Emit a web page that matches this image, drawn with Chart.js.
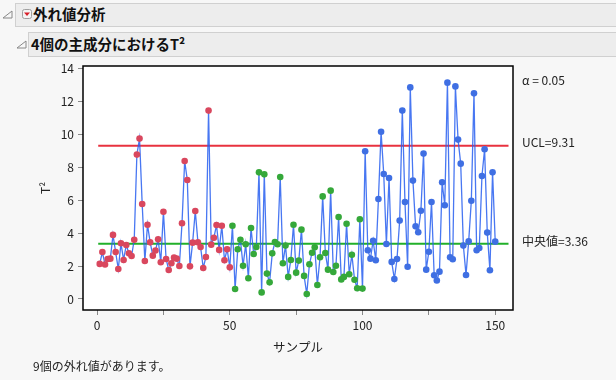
<!DOCTYPE html>
<html><head><meta charset="utf-8">
<script src="https://cdn.jsdelivr.net/npm/chart.js@4/dist/chart.umd.min.js"></script>
<style>
html,body{margin:0;padding:0;background:#f7f7f7;width:616px;height:380px;overflow:hidden;font-family:"Noto Sans CJK JP","Noto Sans",sans-serif;}
#wrap{position:relative;width:616px;height:380px;}
#c{position:absolute;left:0;top:0;}
.hdr{position:absolute;background:#ededed;border:1px solid #d0d0d0;box-sizing:border-box;}
.ht{position:absolute;font-weight:bold;font-size:14.5px;color:#111;white-space:nowrap;line-height:1;}
.tri{position:absolute;}
#foot{position:absolute;left:33px;top:360px;font-size:12px;color:#222;white-space:nowrap;line-height:1;}
</style></head>
<body><div id="wrap">
<canvas id="c" width="616" height="380"></canvas>
<div class="hdr" style="left:15px;top:3px;width:610px;height:24px;"></div>
<svg class="tri" style="left:2px;top:10px" width="12" height="9"><polygon points="1,8 10,8 10,1" fill="none" stroke="#888" stroke-width="1"/></svg>
<svg class="tri" style="left:22px;top:9px" width="11" height="11"><rect x="0.5" y="0.5" width="9" height="9" rx="2" fill="#f4f4f4" stroke="#a0a0a0"/><polygon points="2,3.5 8,3.5 5,7" fill="#d8202a"/></svg>
<div class="ht" style="left:33px;top:7px;">外れ値分析</div>
<div class="hdr" style="left:28px;top:32px;width:600px;height:25px;"></div>
<svg class="tri" style="left:16px;top:40px" width="12" height="9"><polygon points="1,8 10,8 10,1" fill="none" stroke="#888" stroke-width="1"/></svg>
<div class="ht" style="left:31px;top:37px;">4個の主成分におけるT²</div>
<div id="foot">9個の外れ値があります。</div>
</div>
<script>
// ---- data ----
const t2Values = [
 2.13,2.85,2.09,2.43,2.45,3.89,2.85,1.82,3.38,2.37,
 3.28,2.77,2.61,3.60,8.77,9.74,5.77,2.31,4.51,3.44,
 2.63,2.94,3.62,2.23,5.30,2.43,1.76,2.17,2.51,2.45,
 2.00,4.60,8.38,7.23,1.98,3.42,5.34,3.44,3.16,1.88,
 2.55,11.44,3.30,3.72,4.49,2.98,4.45,2.35,3.02,1.92,
 4.45,0.61,3.02,3.60,2.02,3.32,1.26,4.31,2.73,3.16,
 7.69,0.40,7.57,1.54,1.01,2.77,3.46,3.32,7.41,2.17,
 3.24,1.34,2.37,4.51,1.60,2.33,4.21,1.40,0.30,2.11,
 2.81,3.14,0.85,2.53,6.23,2.79,1.78,6.58,1.64,2.02,
 4.98,1.19,1.34,4.57,1.50,2.69,1.17,0.65,4.84,0.63,
 8.97,2.96,2.45,3.54,2.35,6.07,10.16,7.59,3.34,7.35,
 2.25,1.21,2.43,4.76,11.44,5.89,1.96,12.85,7.19,4.41,
 4.05,5.36,8.83,1.78,2.87,5.89,1.44,1.12,1.66,7.09,
 5.69,13.14,2.53,2.41,12.91,9.68,8.22,3.24,1.46,3.50,
 5.97,12.49,2.96,3.10,7.47,9.09,4.03,1.74,7.69,3.48
];
const groupSizes = [50, 50, 50];
const groupColors = ['#d9475e', '#35a83a', '#3f6fe3'];
const ucl = 9.31;
const median = 3.36;
const alpha = 0.05;
const xTickValues = [0, 25, 50, 75, 100, 125, 150];
const xLabelValues = [0, 50, 100, 150];
const yTickValues = [0, 2, 4, 6, 8, 10, 12, 14];

// ---- build ----
const samples = t2Values.map((_, i) => i + 1);
const pointColors = [];
groupSizes.forEach((n, g) => { for (let k = 0; k < n; k++) pointColors.push(groupColors[g]); });
const points = samples.map((s, i) => ({x: s, y: t2Values[i]}));

const FONT = '"Noto Sans CJK JP","Noto Sans",sans-serif';

const framePlugin = {
  id: 'frame',
  beforeDraw(chart) {
    const a = chart.chartArea, c = chart.ctx;
    c.save(); c.fillStyle = '#ffffff'; c.fillRect(a.left, a.top, a.right - a.left, a.bottom - a.top); c.restore();
  },
  beforeDatasetsDraw(chart) {
    const a = chart.chartArea, c = chart.ctx, xs = chart.scales.x, ys = chart.scales.y;
    const x0 = xs.getPixelForValue(samples[0]) - 1.5;
    const x1 = a.right - 4.5;
    c.save();
    c.lineWidth = 2;
    c.strokeStyle = '#e8323f';
    c.beginPath(); c.moveTo(x0, ys.getPixelForValue(ucl)); c.lineTo(x1, ys.getPixelForValue(ucl)); c.stroke();
    c.strokeStyle = '#22b02a';
    c.beginPath(); c.moveTo(x0, ys.getPixelForValue(median)); c.lineTo(x1, ys.getPixelForValue(median)); c.stroke();
    c.restore();
  },
  afterDraw(chart) {
    const a = chart.chartArea, c = chart.ctx, ys = chart.scales.y;
    c.save();
    c.strokeStyle = '#000'; c.lineWidth = 1.5;
    c.strokeRect(a.left, a.top, a.right - a.left, a.bottom - a.top);
    c.fillStyle = '#222';
    c.font = '12px ' + FONT;
    c.textBaseline = 'middle'; c.textAlign = 'left';
    const tx = a.right + 9;
    c.fillText('α = ' + alpha.toFixed(2), tx, a.top + 14);
    c.fillText('UCL=' + ucl.toFixed(2), tx, ys.getPixelForValue(ucl) - 3);
    c.fillText('中央値=' + median.toFixed(2), tx, ys.getPixelForValue(median) - 2);
    c.restore();
  }
};

new Chart(document.getElementById('c'), {
  type: 'scatter',
  data: {
    datasets: [{
      data: points,
      showLine: true,
      borderColor: 'rgba(40,95,240,0.85)',
      borderWidth: 1.3,
      pointRadius: 3.3,
      pointBorderWidth: 0,
      pointBackgroundColor: pointColors,
      pointBorderColor: pointColors,
      tension: 0
    }]
  },
  options: {
    responsive: false,
    animation: false,
    events: [],
    layout: {padding: {top: 66, right: 103, bottom: 0, left: 0}},
    plugins: {legend: {display: false}, tooltip: {enabled: false}},
    scales: {
      x: {
        type: 'linear', min: -5.3, max: 156.7,
        afterFit(s) { s.height = 70; },
        afterBuildTicks(s) { s.ticks = xTickValues.map(v => ({value: v})); },
        grid: {display: true, drawOnChartArea: false, drawTicks: true, tickLength: 5, color: '#888'},
        border: {display: false},
        ticks: {
          autoSkip: false, maxRotation: 0, padding: 3, color: '#222',
          font: {size: 12, family: FONT},
          callback: v => xLabelValues.includes(v) ? String(v) : ''
        },
        title: {display: true, text: 'サンプル', color: '#222', font: {size: 12.5, family: FONT}, padding: {top: 0, bottom: 25}}
      },
      y: {
        type: 'linear', min: -0.67, max: 14.15,
        afterFit(s) { s.width = 83; },
        afterBuildTicks(s) { s.ticks = yTickValues.map(v => ({value: v})); },
        grid: {display: true, drawOnChartArea: false, drawTicks: true, tickLength: 5, color: '#888'},
        border: {display: false},
        ticks: {padding: 4, color: '#222', font: {size: 12, family: FONT}},
        title: {display: true, text: 'T²', color: '#222', font: {size: 12, family: FONT}, padding: {top: 38, bottom: 0}}
      }
    }
  },
  plugins: [framePlugin]
});
</script>
</body></html>
